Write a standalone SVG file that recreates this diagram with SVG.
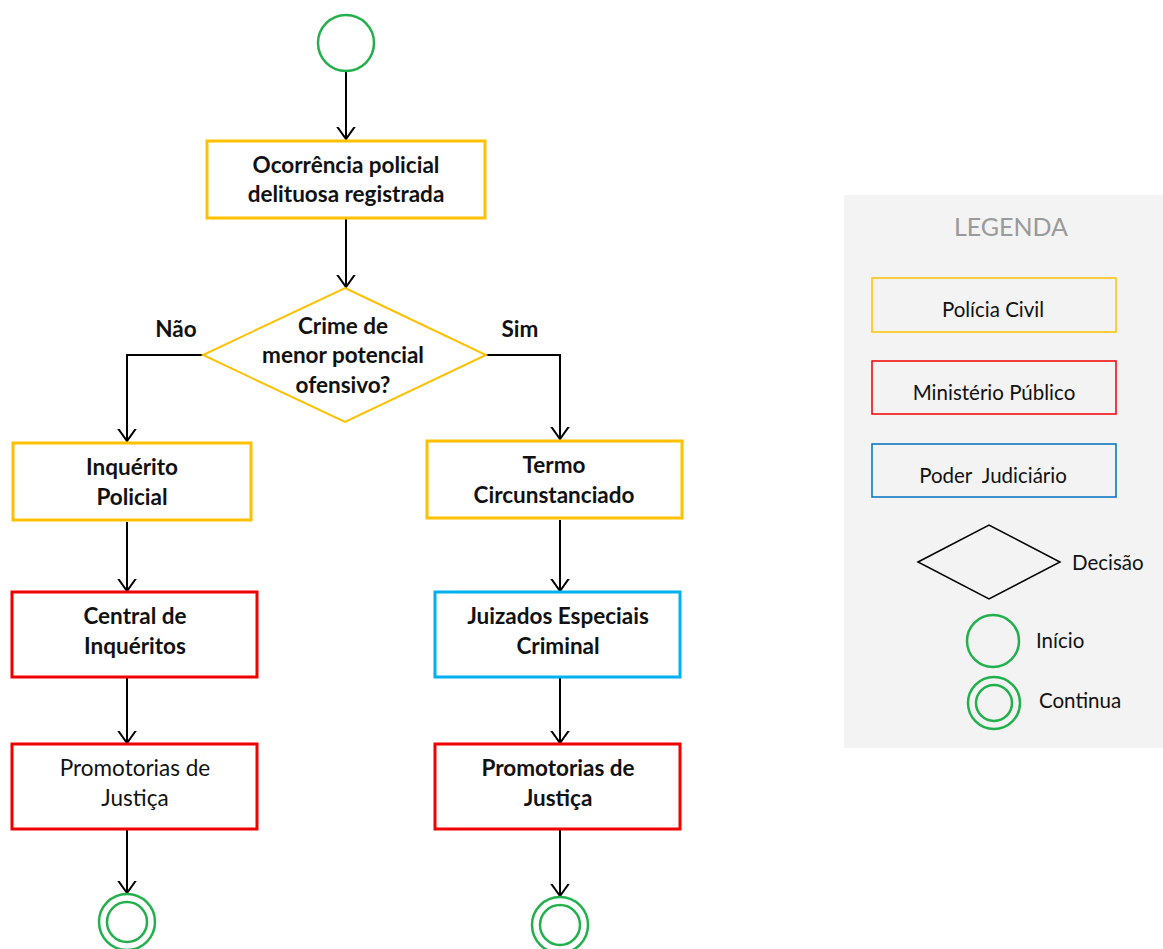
<svg xmlns="http://www.w3.org/2000/svg" width="1163" height="949" viewBox="0 0 1163 949">
  <style>
    .lbl { font-family: Lato, "Liberation Sans", sans-serif; font-size: 22.5px; fill: #111; text-anchor: middle; font-weight: bold; }
    .reg { font-weight: normal; }
    .box { fill: #fff; stroke-width: 3; }
    .pc { stroke: #FFC000; }
    .mp { stroke: #F00000; }
    .pj { stroke: #00B0F0; }
    .start { fill: #fff; stroke: #22B04C; stroke-width: 2.5; }
    .edge { fill: none; stroke: #000; stroke-width: 2; marker-end: url(#arrow); }
    .leg { font-family: Lato, "Liberation Sans", sans-serif; font-size: 20.5px; fill: #111; }
    .legbox { fill: none; stroke-width: 1.5; }
  </style>
  <defs>
    <marker id="arrow" markerUnits="userSpaceOnUse" markerWidth="24" markerHeight="24" refX="12" refY="12" orient="auto" viewBox="0 0 24 24">
      <path d="M-2,2 L12,12 L-2,22" fill="none" stroke="#000" stroke-width="2"/>
    </marker>
  </defs>
  <rect width="1163" height="949" fill="#fff"/>

  <!-- connectors -->
  <g id="connectors">
    <path class="edge" d="M346,72 V139"/>
    <path class="edge" d="M346,218 V287"/>
    <path class="edge" d="M203,355 H127 V441"/>
    <path class="edge" d="M486,355 H560 V439"/>
    <path class="edge" d="M127,522 V591"/>
    <path class="edge" d="M127,677 V743"/>
    <path class="edge" d="M127,829 V893"/>
    <path class="edge" d="M560,520 V591"/>
    <path class="edge" d="M560,677 V743"/>
    <path class="edge" d="M560,829 V896"/>
  </g>

  <!-- flow nodes -->
  <g id="inicio">
    <circle class="start" cx="346" cy="43" r="28"/>
  </g>
  <g id="ocorrencia">
    <rect class="box pc" x="207" y="141" width="278" height="77"/>
    <text class="lbl" x="346" y="173">Ocorrência policial</text>
    <text class="lbl" x="346" y="202">delituosa registrada</text>
  </g>
  <g id="decisao">
    <polygon points="345,288 486,355 345,422 203,355" fill="#fff" stroke="#FFC000" stroke-width="2"/>
    <text class="lbl" x="343" y="334">Crime de</text>
    <text class="lbl" x="343" y="363">menor potencial</text>
    <text class="lbl" x="343" y="393">ofensivo?</text>
  </g>
  <g id="nao">
    <text class="lbl" x="176" y="337">Não</text>
  </g>
  <g id="sim">
    <text class="lbl" x="520" y="337">Sim</text>
  </g>
  <g id="inquerito">
    <rect class="box pc" x="13" y="443" width="238" height="77"/>
    <text class="lbl" x="132" y="475">Inquérito</text>
    <text class="lbl" x="132" y="505">Policial</text>
  </g>
  <g id="central">
    <rect class="box mp" x="12" y="592" width="245" height="85"/>
    <text class="lbl" x="135" y="624">Central de</text>
    <text class="lbl" x="135" y="654">Inquéritos</text>
  </g>
  <g id="promotorias-esq">
    <rect class="box mp" x="12" y="744" width="245" height="85"/>
    <text class="lbl reg" x="135" y="776">Promotorias de</text>
    <text class="lbl reg" x="135" y="806">Justiça</text>
  </g>
  <g id="continua-esq">
    <circle class="start" cx="127" cy="922" r="28"/>
    <circle class="start" cx="127" cy="922" r="20"/>
  </g>
  <g id="termo">
    <rect class="box pc" x="427" y="441" width="255" height="77"/>
    <text class="lbl" x="554" y="473">Termo</text>
    <text class="lbl" x="554" y="503">Circunstanciado</text>
  </g>
  <g id="juizados">
    <rect class="box pj" x="435" y="592" width="245" height="85"/>
    <text class="lbl" x="558" y="624">Juizados Especiais</text>
    <text class="lbl" x="558" y="654">Criminal</text>
  </g>
  <g id="promotorias-dir">
    <rect class="box mp" x="435" y="744" width="245" height="85"/>
    <text class="lbl" x="558" y="776">Promotorias de</text>
    <text class="lbl" x="558" y="806">Justiça</text>
  </g>
  <g id="continua-dir">
    <circle class="start" cx="560" cy="925" r="28"/>
    <circle class="start" cx="560" cy="925" r="20"/>
  </g>

  <!-- legend -->
  <g id="legenda">
    <rect x="844" y="195" width="319" height="553" fill="#F3F3F3"/>
    <text x="1011" y="236" font-family="Lato, 'Liberation Sans', sans-serif" font-size="25" fill="#9A9A9A" text-anchor="middle">LEGENDA</text>
    <rect class="legbox" x="872" y="278" width="244" height="54" stroke="#FFC000"/>
    <text class="leg" x="993" y="317" text-anchor="middle">Polícia Civil</text>
    <rect class="legbox" x="872" y="361" width="244" height="53" stroke="#F00000"/>
    <text class="leg" x="994" y="400" text-anchor="middle">Ministério Público</text>
    <rect class="legbox" x="872" y="444" width="244" height="53" stroke="#0070C0"/>
    <text class="leg" x="993" y="483" text-anchor="middle" xml:space="preserve">Poder  Judiciário</text>
    <polygon points="918,562 989,525 1060,562 989,599" fill="none" stroke="#000" stroke-width="1.5"/>
    <text class="leg" x="1072" y="570">Decisão</text>
    <circle cx="993" cy="641" r="26" fill="none" stroke="#22B04C" stroke-width="2.5"/>
    <text class="leg" x="1036" y="648">Início</text>
    <circle cx="994" cy="703" r="26" fill="none" stroke="#22B04C" stroke-width="2.5"/>
    <circle cx="994" cy="703" r="18" fill="none" stroke="#22B04C" stroke-width="2.5"/>
    <text class="leg" x="1039" y="708">Continua</text>
  </g>
</svg>
